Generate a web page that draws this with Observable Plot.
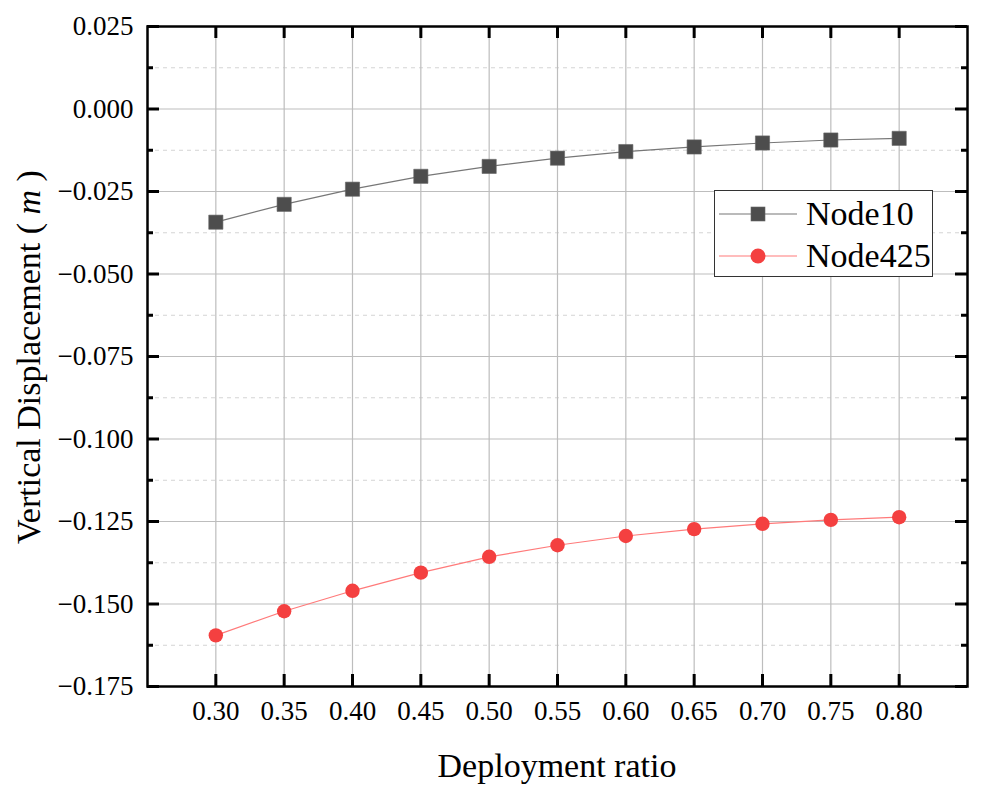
<!DOCTYPE html>
<html>
<head>
<meta charset="utf-8">
<script src="https://cdn.jsdelivr.net/npm/d3@7"></script>
<script src="https://cdn.jsdelivr.net/npm/@observablehq/plot@0.6"></script>
<style>
  html, body { margin: 0; padding: 0; background: white; }
  #wrap { position: relative; width: 982px; height: 797px; }
  #legend { position: absolute; left: 714px; top: 190px; width: 219px; height: 87px;
    border: 1.5px solid #333; background: white; box-sizing: border-box;
    font-family: "Liberation Serif", serif; font-size: 34px; }
  .row { position: absolute; left: 0; height: 40px; display: flex; align-items: center; }
  .row svg { margin-left: 4px; }
  .row span { margin-left: 7px; line-height: 1; }
</style>
</head>
<body>
<div id="wrap"><div id="chart"></div>
  <div id="legend">
    <div class="row" style="top:3px"><svg width="80" height="30"><line x1="0" y1="15" x2="78" y2="15" stroke="#777" stroke-width="1.2"/><rect x="32" y="8" width="14" height="14" fill="#4d4d4d" stroke="#666" stroke-width="0.6"/></svg><span>Node10</span></div>
    <div class="row" style="top:45px"><svg width="80" height="30"><line x1="0" y1="15" x2="78" y2="15" stroke="#ff7a7a" stroke-width="1.2"/><circle cx="39" cy="15" r="7.5" fill="#f44040"/></svg><span>Node425</span></div>
  </div>
</div>
<script>
const ratios = [0.30, 0.35, 0.40, 0.45, 0.50, 0.55, 0.60, 0.65, 0.70, 0.75, 0.80];
const node10 = [-0.0343, -0.0289, -0.0243, -0.0204, -0.0174, -0.0149, -0.0129, -0.0115, -0.0103, -0.0094, -0.0089];
const node425 = [-0.1595, -0.1522, -0.1460, -0.1405, -0.1357, -0.1322, -0.1294, -0.1273, -0.1257, -0.1245, -0.1237];
const yTicks = [-0.175, -0.150, -0.125, -0.100, -0.075, -0.050, -0.025, 0.000, 0.025];
const yMinor = [-0.1625, -0.1375, -0.1125, -0.0875, -0.0625, -0.0375, -0.0125, 0.0125];
const xTicks = ratios;

const d10 = ratios.map((r, i) => ({r, v: node10[i]}));
const d425 = ratios.map((r, i) => ({r, v: node425[i]}));

const W = 982, H = 797, mL = 147, mR = 15, mT = 26, mB = 111;
const fw = W - mL - mR, fh = H - mT - mB;
const fmtY = d3.format(".3f");
const fmtX = d3.format(".2f");

const chart = Plot.plot({
  width: W, height: H,
  marginLeft: mL, marginRight: mR, marginTop: mT, marginBottom: mB,
  style: {fontFamily: "Liberation Serif", fontSize: "27px", color: "black", background: "white", overflow: "visible"},
  x: {domain: [0.25, 0.85]},
  y: {domain: [-0.175, 0.025]},
  marks: [
    Plot.ruleY(yMinor, {stroke: "#d4d4d4", strokeDasharray: "4,4", strokeWidth: 1}),
    Plot.ruleY(yTicks, {stroke: "#bdbdbd", strokeWidth: 1.2}),
    Plot.ruleX(xTicks, {stroke: "#bdbdbd", strokeWidth: 1.2}),
    Plot.line(d10, {x: "r", y: "v", stroke: "#777", strokeWidth: 1.2}),
    Plot.line(d425, {x: "r", y: "v", stroke: "#ff7a7a", strokeWidth: 1.2}),
    Plot.dot(d10, {x: "r", y: "v", symbol: "square", r: 8, fill: "#4d4d4d", stroke: "#666", strokeWidth: 0.6}),
    Plot.dot(d425, {x: "r", y: "v", r: 7.2, fill: "#f44040"}),
    // inward ticks
    Plot.ruleX(xTicks, {stroke: "black", strokeWidth: 3, insetTop: fh - 12}),
    Plot.ruleX(xTicks, {stroke: "black", strokeWidth: 3, insetBottom: fh - 12}),
    Plot.ruleY(yTicks, {stroke: "black", strokeWidth: 3, insetRight: fw - 12}),
    Plot.ruleY(yTicks, {stroke: "black", strokeWidth: 3, insetLeft: fw - 12}),
    Plot.ruleY(yMinor, {stroke: "black", strokeWidth: 3, insetRight: fw - 6}),
    Plot.ruleY(yMinor, {stroke: "black", strokeWidth: 3, insetLeft: fw - 6}),
    Plot.frame({stroke: "black", strokeWidth: 2.5}),
    Plot.axisX(xTicks, {anchor: "bottom", tickSize: 0, tickPadding: 14, tickFormat: fmtX, label: null, fontSize: 27}),
    Plot.axisY(yTicks, {anchor: "left", tickSize: 0, tickPadding: 14, tickFormat: fmtY, label: null, fontSize: 27})
  ]
});
document.getElementById("chart").appendChild(chart);

const svg = d3.select(chart);
svg.append("text")
  .attr("x", 557).attr("y", 777)
  .attr("text-anchor", "middle")
  .attr("font-family", "Liberation Serif").attr("font-size", 34).attr("fill", "black")
  .text("Deployment ratio");
const yt = svg.append("text")
  .attr("transform", "translate(40,357) rotate(-90)")
  .attr("text-anchor", "middle")
  .attr("font-family", "Liberation Serif").attr("font-size", 34).attr("fill", "black");
yt.append("tspan").text("Vertical Displacement ( ");
yt.append("tspan").attr("font-style", "italic").text("m");
yt.append("tspan").text(" )");
</script>
</body>
</html>
